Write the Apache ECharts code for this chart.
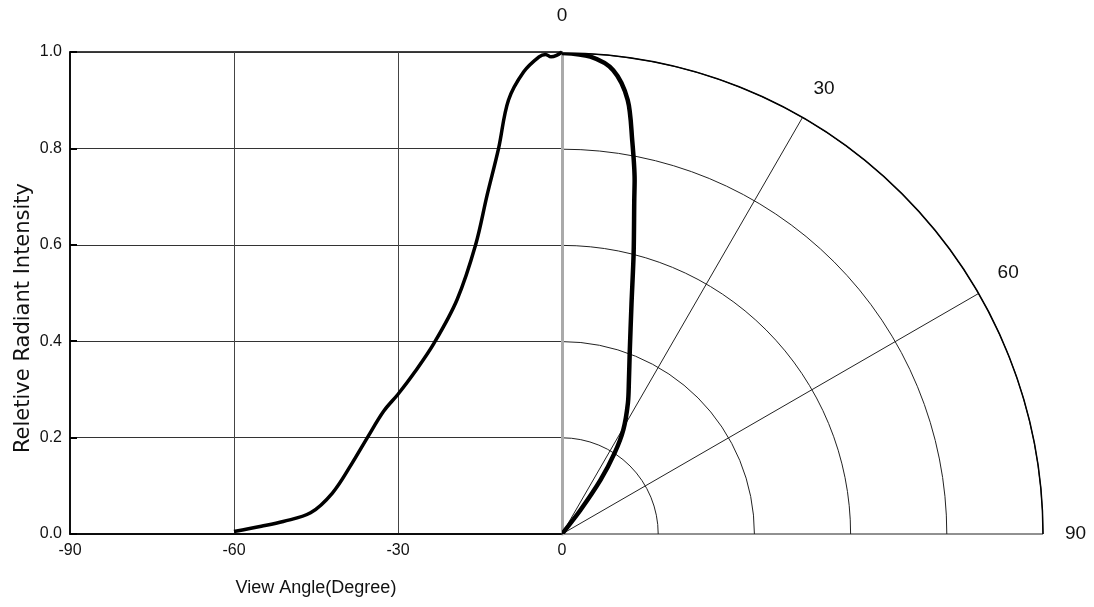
<!DOCTYPE html>
<html>
<head>
<meta charset="utf-8">
<style>
  html, body { margin: 0; padding: 0; background: #fff; }
  #chart { width: 1094px; height: 607px; }
</style>
<script src="https://cdn.jsdelivr.net/npm/echarts@6/dist/echarts.min.js"></script>
</head>
<body>
<div id="chart"></div>
<script>
"use strict";

// 左侧直角坐标：视角 (度) 与相对强度
const leftAngles = [-60, -55, -51, -46, -42, -38.5, -35.6, -32.6, -30, -27, -23.4, -19.2, -15.8, -13.7, -11.6, -9.8, -7, -4.2, -3, -2, -1, 0];
const leftValues = [0.005, 0.016, 0.026, 0.044, 0.085, 0.145, 0.2, 0.255, 0.29, 0.335, 0.396, 0.486, 0.6, 0.703, 0.8, 0.9, 0.959, 0.99, 0.995, 0.99, 0.993, 1.0];

// 右侧极坐标：角度 (度) 与相对强度
const rightAngles = [0, 3.4, 6.3, 8.6, 10.1, 11.6, 12.2, 14.3, 16.8, 20.5, 23.5, 26.7, 30.5, 33, 35.5, 37.6, 40];
const rightValues = [1.0, 0.994, 0.97, 0.913, 0.832, 0.751, 0.711, 0.603, 0.5, 0.402, 0.349, 0.305, 0.251, 0.201, 0.138, 0.063, 0];

// 刻度
const xTicks = [-90, -60, -30, 0];
const yTicks = [0, 0.2, 0.4, 0.6, 0.8, 1.0];
const angleTicks = [0, 30, 60, 90];

const labelFont = '"Liberation Sans", Arial, sans-serif';

let myChart = echarts.init(document.getElementById('chart'));

let option = {
  backgroundColor: '#fff',
  animation: false,
  grid: { // 直角坐标系
    left: 70,
    top: 52,
    width: 492,
    height: 482,
    show: true,
    borderColor: '#000',
    borderWidth: 1.5,
    outerBoundsMode: 'none',
  },
  polar: { // 极坐标系
    center: [562, 534],
    radius: 481,
  },
  xAxis: {
    type: 'value',
    min: xTicks[0],
    max: xTicks[xTicks.length - 1],
    interval: 30,
    name: 'View Angle(Degree)',
    nameLocation: 'middle',
    nameGap: 45,
    nameTextStyle: { fontFamily: labelFont, fontSize: 18, color: '#111' },
    axisLine: { show: true, onZero: false, lineStyle: { color: '#000', width: 1.5 } },
    axisTick: { show: false },
    axisLabel: { fontFamily: labelFont, fontSize: 16, color: '#111', margin: 9 },
    splitLine: { show: true, lineStyle: { color: '#444', width: 1 } },
  },
  yAxis: {
    type: 'value',
    min: yTicks[0],
    max: yTicks[yTicks.length - 1],
    interval: 0.2,
    name: 'Reletive Radiant Intensity',
    nameLocation: 'middle',
    nameGap: 36,
    nameTextStyle: { fontFamily: '"DejaVu Sans", sans-serif', fontSize: 21, color: '#111', padding: [0, 50, 0, 0] },
    axisLine: { show: true, onZero: false, lineStyle: { color: '#000', width: 1.5 } },
    axisTick: { show: true, inside: true, length: 7, lineStyle: { color: '#000', width: 2 } },
    axisLabel: {
      fontFamily: labelFont, fontSize: 16, color: '#111', margin: 8,
      formatter: function (value) {
        return value.toFixed(1);
      },
    },
    splitLine: { show: true, lineStyle: { color: '#333', width: 1 } },
  },
  angleAxis: {
    type: 'value',
    min: angleTicks[0],
    max: angleTicks[angleTicks.length - 1],
    interval: 30,
    startAngle: 90,
    endAngle: 0,
    clockwise: true,
    axisLine: { show: true, lineStyle: { color: '#000', width: 1.5 } },
    axisTick: { show: false },
    axisLabel: {
      fontFamily: labelFont, fontSize: 19, color: '#111', margin: 22,
      formatter: function (value) {
        return value === 0 ? '{top|0}' : String(value);
      },
      rich: {
        top: { fontFamily: labelFont, fontSize: 19, color: '#111', padding: [0, 0, 6, 0] },
      },
    },
    splitLine: { show: true, lineStyle: { color: '#222', width: 1 } },
  },
  radiusAxis: {
    type: 'value',
    min: 0,
    max: 1,
    interval: 0.2,
    axisLine: { show: true, lineStyle: { color: '#aaa', width: 3 } },
    axisTick: { show: false },
    axisLabel: { show: false },
    splitLine: { show: true, lineStyle: { color: '#222', width: 1 } },
  },
  series: [
    {
      name: 'cartesian',
      type: 'line',
      xAxisIndex: 0,
      yAxisIndex: 0,
      smooth: 0.35,
      showSymbol: false,
      data: leftAngles.map(function (a, i) {
        return [a, leftValues[i]];
      }),
      lineStyle: { color: '#000', width: 3.5 },
      z: 5,
    },
    {
      name: 'polar',
      type: 'line',
      coordinateSystem: 'polar',
      smooth: 0.3,
      showSymbol: false,
      data: rightAngles.map(function (a, i) {
        return [rightValues[i], a];
      }),
      lineStyle: { color: '#000', width: 4.5 },
      z: 5,
    },
  ],
};

myChart.setOption(option);
</script>
</body>
</html>
